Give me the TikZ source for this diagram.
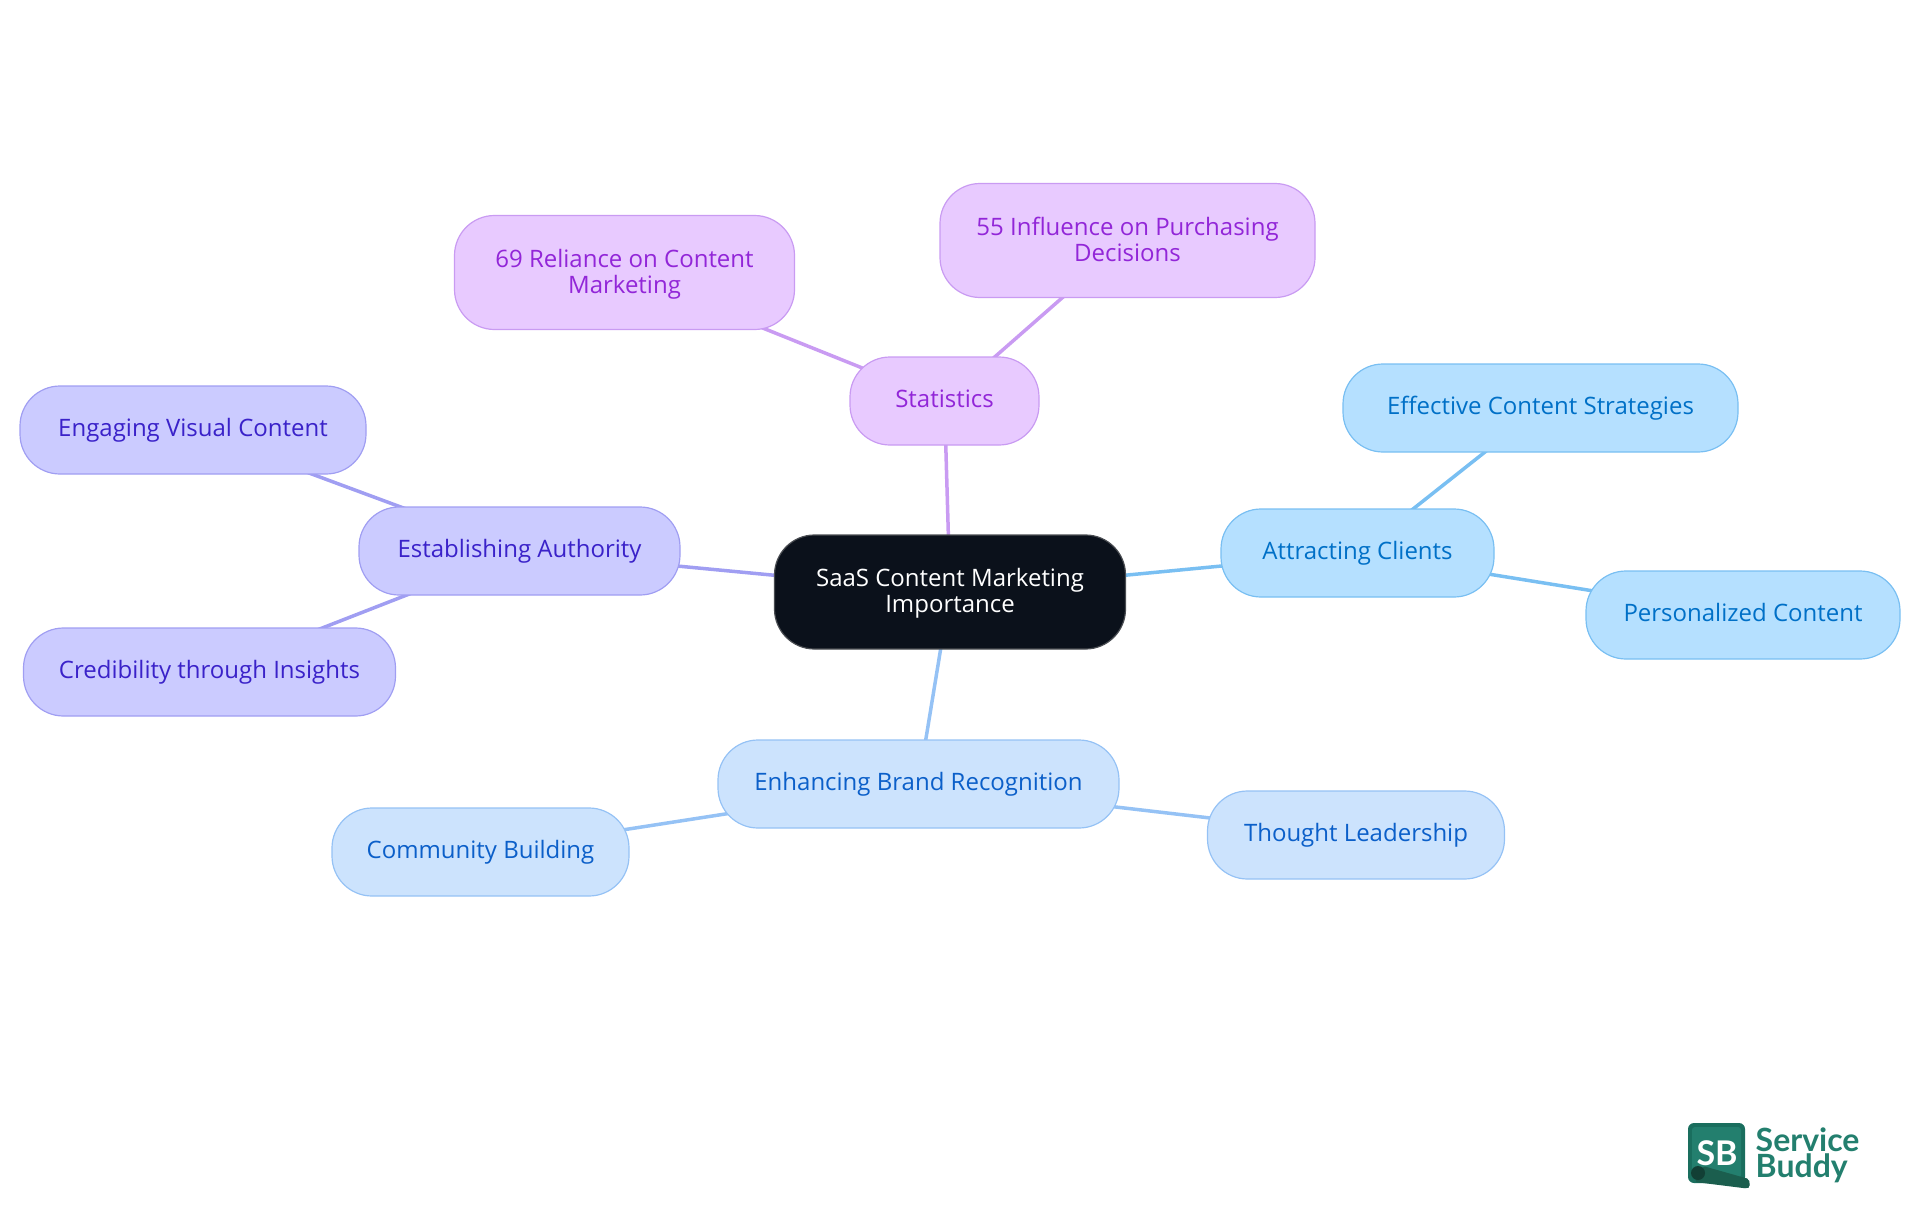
\documentclass[tikz,border=0pt]{standalone}
\usepackage{fontspec}
\setmainfont{Open Sans}
\newfontfamily\logofont{Lato}
\usetikzlibrary{backgrounds}
\definecolor{rootfill}{HTML}{0B111B}
\definecolor{rootline}{HTML}{4A4D52}
\definecolor{pfill}{HTML}{E8CAFF}
\definecolor{pline}{HTML}{C99BF2}
\definecolor{ptext}{HTML}{9226D8}
\definecolor{ifill}{HTML}{CBCBFF}
\definecolor{iline}{HTML}{A09EF2}
\definecolor{itext}{HTML}{3A22C9}
\definecolor{bfill}{HTML}{CCE3FD}
\definecolor{bline}{HTML}{95C2F5}
\definecolor{btext}{HTML}{0B5FC9}
\definecolor{cfill}{HTML}{B5E0FF}
\definecolor{cline}{HTML}{79BFF2}
\definecolor{ctext}{HTML}{0070C7}
\definecolor{logogreen}{HTML}{237F6E}
\definecolor{logoedge}{HTML}{1A6E5E}
\definecolor{logoroll}{HTML}{1B5E4E}
\definecolor{logodark}{HTML}{123F35}
\newcommand\firstlinelift{\rule{0pt}{23pt}}
\tikzset{
  box/.style n args={2}{rounded corners=40pt,minimum width=#1,minimum height=#2,
    align=center,inner sep=0pt,outer sep=0pt,line width=1.2pt,
    execute at begin node={\rule{0pt}{21.7pt}},execute at end node=\strut,
    font=\fontsize{24}{26}\selectfont},
  rootbox/.style={box={351pt}{114pt},fill=rootfill,draw=rootline,text=white},
  pbox/.style n args={2}{box={#1}{#2},fill=pfill,draw=pline,text=ptext},
  ibox/.style n args={2}{box={#1}{#2},fill=ifill,draw=iline,text=itext},
  bbox/.style n args={2}{box={#1}{#2},fill=bfill,draw=bline,text=btext},
  cbox/.style n args={2}{box={#1}{#2},fill=cfill,draw=cline,text=ctext},
  link/.style={line width=3.5pt}
}
\begin{document}
\begin{tikzpicture}[x=1pt,y=1pt]
\useasboundingbox (0,0) rectangle (1920,-1215);
\node[rootbox] (root) at (950,-592) {\firstlinelift SaaS Content Marketing\\Importance};
\node[pbox={189pt}{88pt}] (stat) at (944.5,-401) {Statistics};
\node[pbox={340pt}{114pt}] (rel) at (624.5,-272.5) {\firstlinelift 69 Reliance on Content\\Marketing};
\node[pbox={375pt}{114pt}] (inf) at (1127.5,-240.5) {\firstlinelift 55 Influence on Purchasing\\Decisions};
\node[ibox={321pt}{88pt}] (auth) at (519.5,-551) {Establishing Authority};
\node[ibox={346pt}{88pt}] (vis) at (193,-430) {Engaging Visual Content};
\node[ibox={372pt}{88pt}] (cred) at (209.5,-672) {Credibility through Insights};
\node[cbox={273pt}{88pt}] (att) at (1357.5,-553) {Attracting Clients};
\node[cbox={395pt}{88pt}] (eff) at (1540.5,-408) {Effective Content Strategies};
\node[cbox={314pt}{88pt}] (per) at (1743,-615) {Personalized Content};
\node[bbox={401pt}{88pt}] (brand) at (918.5,-784) {Enhancing Brand Recognition};
\node[bbox={297pt}{88pt}] (com) at (480.5,-852) {Community Building};
\node[bbox={297pt}{88pt}] (tho) at (1356,-835) {Thought Leadership};
\begin{pgfonlayer}{background}
\draw[link,draw=pline] (root.center) -- (stat.center);
\draw[link,draw=pline] (stat.center) -- (rel.center);
\draw[link,draw=pline] (stat.center) -- (inf.center);
\draw[link,draw=iline] (root.center) -- (auth.center);
\draw[link,draw=iline] (auth.center) -- (vis.center);
\draw[link,draw=iline] (auth.center) -- (cred.center);
\draw[link,draw=cline] (root.center) -- (att.center);
\draw[link,draw=cline] (att.center) -- (eff.center);
\draw[link,draw=cline] (att.center) -- (per.center);
\draw[link,draw=bline] (root.center) -- (brand.center);
\draw[link,draw=bline] (brand.center) -- (com.center);
\draw[link,draw=bline] (brand.center) -- (tho.center);
\end{pgfonlayer}
% logo
\fill[logoedge,rounded corners=6pt] (1688,-1123) rectangle (1745,-1183);
\fill[logogreen,rounded corners=3pt] (1692,-1127) rectangle (1741,-1178);
\fill[logoroll,rounded corners=2pt] (1703,-1166) -- (1749,-1179) -- (1750,-1187) -- (1747,-1188.5) -- (1695,-1182) -- cycle;
\fill[logodark] (1698,-1173) ellipse (7pt and 7pt);
\node[inner sep=0pt,text=white,font=\logofont\bfseries\fontsize{34}{34}\selectfont] (sb) at (1717,-1153) {SB};
\node[anchor=base west,inner sep=0pt,align=left,text=logogreen,font=\logofont\bfseries\fontsize{32}{26}\selectfont] (logotext) at (1755.5,-1177) {Service\\Buddy};
\end{tikzpicture}
\end{document}
